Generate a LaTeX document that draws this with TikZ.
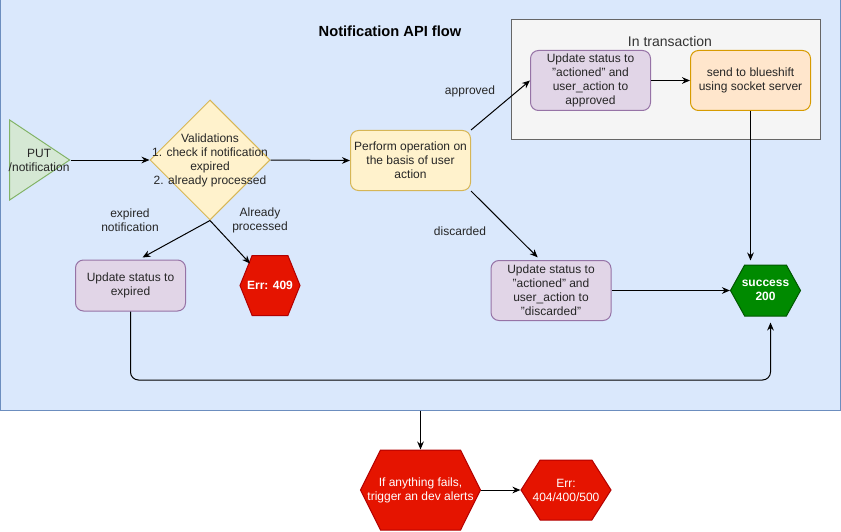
\documentclass[tikz,border=0pt]{standalone}
\usepackage{fontspec}
\setmainfont{Liberation Sans}
\usetikzlibrary{shapes.geometric,shapes.symbols,arrows.meta}

\definecolor{flowfill}{HTML}{DAE8FC}
\definecolor{flowline}{HTML}{6C8EBF}
\definecolor{transfill}{HTML}{F5F5F5}
\definecolor{transline}{HTML}{666666}
\definecolor{purplefill}{HTML}{E1D5E7}
\definecolor{purpleline}{HTML}{9673A6}
\definecolor{yellowfill}{HTML}{FFF2CC}
\definecolor{yellowline}{HTML}{D6B656}
\definecolor{orangefill}{HTML}{FFE6CC}
\definecolor{orangeline}{HTML}{D79B00}
\definecolor{greenfill}{HTML}{D5E8D4}
\definecolor{greenline}{HTML}{82B366}
\definecolor{okfill}{HTML}{008A00}
\definecolor{okline}{HTML}{005700}
\definecolor{errfill}{HTML}{E51400}
\definecolor{errline}{HTML}{B20000}

\tikzset{
	txt/.style={font=\fontsize{9}{10.5}\selectfont, align=center, text=black!85},
	box/.style={txt, draw, rounded corners=6pt, minimum width=90pt, minimum height=45pt, inner sep=0pt},
	hexabase/.style={signal, signal to=east and west, draw=errline, fill=errfill, inner sep=0pt},
	hexa/.style={hexabase, label={[text=white, align=center, font=\bfseries\fontsize{9}{10.5}\selectfont]center:#1}},
	hexathin/.style={hexabase, label={[text=white, align=center, font=\fontsize{9}{10.5}\selectfont]center:#1}},
	arr/.style={-{Stealth[length=6pt,width=5pt]}}
}

\begin{document}
\begin{tikzpicture}[x=0.75pt, y=-0.75pt, line width=0.75pt]
	\useasboundingbox (0,0) rectangle (841,531);
	\node[draw=flowline, fill=flowfill, minimum width=630pt, minimum height=307.5pt, inner sep=0pt] (flow) at (420,205) {};
	\node[font=\bfseries\fontsize{11}{13}\selectfont] (title) at (390,31) {Notification API flow};
	\node[draw=transline, fill=transfill, minimum width=231.75pt, minimum height=90pt, inner sep=0pt] (trans) at (665.5,80) {};
	\node[font=\fontsize{10.5}{12}\selectfont, text=black!80] (translabel) at (670,41) {In transaction};

	\node[isosceles triangle, isosceles triangle stretches, draw=greenline, fill=greenfill, minimum width=60pt, minimum height=45pt, inner sep=0pt, anchor=apex, label={[txt, xshift=6pt]center:PUT\\/notification}] (put) at (71,160) {};
	\node[diamond, draw=yellowline, fill=yellowfill, minimum width=90pt, minimum height=90pt, inner sep=0pt, label={[txt]center:Validations\\1. check if notification\\expired\\2. already processed}] (valid) at (210,160) {};
	\node[box, draw=yellowline, fill=yellowfill] (perform) at (410.5,160.5) {Perform operation on\\the basis of user\\action};
	\node[box, draw=purpleline, fill=purplefill] (approve) at (590.5,80.5) {Update status to\\"actioned" and\\user\_action to\\approved};
	\node[box, draw=orangeline, fill=orangefill] (send) at (750.5,80.5) {send to blueshift\\using socket server};
	\node[box, draw=purpleline, fill=purplefill] (discard) at (551,290.5) {Update status to\\"actioned" and\\user\_action to\\"discarded"};
	\node[box, draw=purpleline, fill=purplefill, minimum width=82.5pt, minimum height=38.25pt] (expired) at (130.5,285.5) {Update status to\\expired};

	\node[hexa={Err: 409}, minimum width=45pt, minimum height=45pt, signal pointer angle=136] (e409) at (270,285.5) {};
	\node[hexa={success\\200}, draw=okline, fill=okfill, minimum width=52.5pt, minimum height=38.25pt, signal pointer angle=122] (success) at (765.5,290.5) {};
	\node[hexathin={If anything fails,\\trigger an dev alerts}, minimum width=90pt, minimum height=60pt, signal pointer angle=127] (fail) at (420.5,490) {};
	\node[hexathin={Err:\\404/400/500}, minimum width=67.5pt, minimum height=45pt, signal pointer angle=115] (e500) at (566,490) {};

	\node[txt] (approvedlbl) at (470,91) {approved};
	\node[txt] (discardedlbl) at (460,231) {discarded};
	\node[txt] (expiredlbl) at (130,220) {expired\\notification};
	\node[txt] (processedlbl) at (260,220) {Already\\processed};

	\draw[arr] (put.apex) -- (valid.west);
	\draw[arr] (valid.east) -- (perform.west);
	\draw[arr] (valid.south) -- ([xshift=9pt,yshift=1.5pt]expired.north);
	\draw[arr] (valid.south) -- ([shift={(-15pt,16.5pt)}]e409.center);
	\draw[arr] (perform.north east) -- (approve.west);
	\draw[arr] (perform.south east) -- ([xshift=-10pt,yshift=2pt]discard.north);
	\draw[arr] (approve.east) -- (send.west);
	\draw[arr, shorten >=3pt] (send.south) -- (send.south |- success.north);
	\draw[arr] (discard.east) -- (success.west);
	\draw[arr, rounded corners=6pt, shorten >=4.5pt] (expired.south) -- (130.5,380) -| ([xshift=3.75pt]success.south);
	\draw[arr] (flow.south -| fail.north) -- (fail.north);
	\draw[arr] (fail.east) -- (e500.west);
\end{tikzpicture}
\end{document}
